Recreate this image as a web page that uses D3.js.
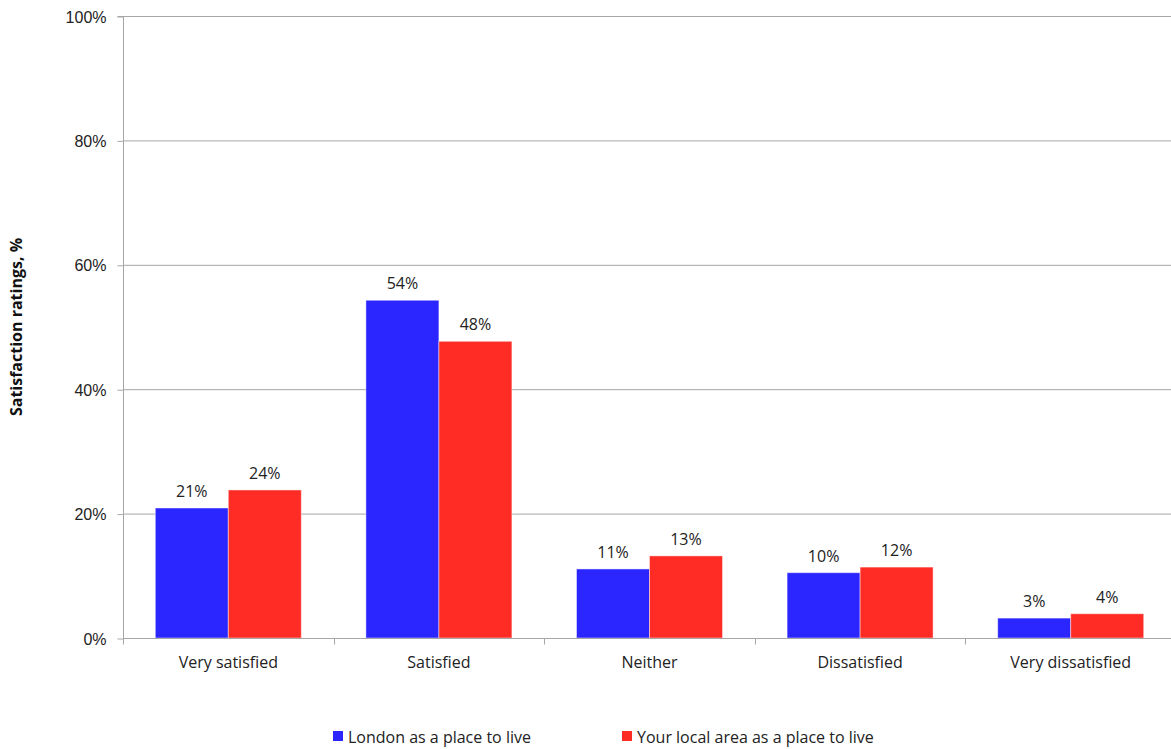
<!DOCTYPE html>
<html><head><meta charset="utf-8">
<script src="https://cdn.jsdelivr.net/npm/d3@7"></script>
<style>body{margin:0;background:#fff;}svg{display:block;font-family:"Open Sans","Noto Sans",sans-serif;}</style>
</head><body>
<script>
const categories = ["Very satisfied","Satisfied","Neither","Dissatisfied","Very dissatisfied"];
const seriesNames = ["London as a place to live","Your local area as a place to live"];
const london = [20.9, 54.3, 11.1, 10.5, 3.2];
const localArea = [23.8, 47.7, 13.2, 11.4, 3.9];
const labelsLondon = ["21%","54%","11%","10%","3%"];
const labelsLocal = ["24%","48%","13%","12%","4%"];
const yTicks = [0,20,40,60,80,100];
const colors = ["#2b25ff","#ff2b25"];

const W=1171,H=749;
const m={left:123,top:16,bottom:111};
const svg=d3.select("body").append("svg").attr("width",W).attr("height",H);
const x=d3.scaleBand().domain(categories).range([m.left, m.left+5*210.6]).paddingInner(0).paddingOuter(0);
const y=d3.scaleLinear().domain([0,100]).range([H-m.bottom, m.top]);
const x1=d3.scaleBand().domain([0,1]).range([0,x.bandwidth()]).paddingOuter(0.4425).paddingInner(0);

// gridlines
svg.append("g").selectAll("line").data(yTicks).join("line")
 .attr("x1",m.left).attr("x2",W).attr("y1",d=>y(d)+0.5).attr("y2",d=>y(d)+0.5)
 .attr("stroke","#a6a6a6").attr("stroke-width",1);

// bars
const series=[london,localArea];
const labels=[labelsLondon,labelsLocal];
series.forEach((vals,si)=>{
  const g=svg.append("g");
  g.selectAll("rect").data(vals).join("rect")
   .attr("x",(d,i)=>x(categories[i])+x1(si))
   .attr("y",d=>y(d))
   .attr("width",x1.bandwidth())
   .attr("height",d=>y(0)-y(d))
   .attr("fill",colors[si])
   .attr("stroke","rgba(255,255,255,0.45)").attr("stroke-width",1);
  g.selectAll("text").data(vals).join("text")
   .attr("x",(d,i)=>x(categories[i])+x1(si)+x1.bandwidth()/2)
   .attr("y",d=>y(d)-11)
   .attr("text-anchor","middle").attr("font-size",16).attr("fill","#222")
   .text((d,i)=>labels[si][i]);
});

// y axis
const yAxis=d3.axisLeft(y).tickValues(yTicks).tickFormat(d=>d+"%").tickSize(6).tickPadding(11);
const ya=svg.append("g").attr("transform",`translate(${m.left+0.5},0.5)`).call(yAxis);
ya.select(".domain").attr("stroke","#a6a6a6").attr("d",`M-6,${y(100)}H0V${y(0)}`);
ya.selectAll(".tick line").attr("stroke","#a6a6a6");
ya.selectAll(".tick text").attr("font-size",16).attr("fill","#222").attr("font-family",null).attr("dy","0.35em");

// x axis
const xa=svg.append("g").attr("transform",`translate(0,${y(0)+0.5})`);
xa.append("line").attr("x1",m.left).attr("x2",W).attr("stroke","#a6a6a6");
xa.selectAll("line.t").data(d3.range(6)).join("line").attr("class","t")
 .attr("x1",i=>Math.round(m.left+i*x.bandwidth())+0.5).attr("x2",i=>Math.round(m.left+i*x.bandwidth())+0.5)
 .attr("y1",0).attr("y2",6).attr("stroke","#a6a6a6");
xa.selectAll("text").data(categories).join("text")
 .attr("x",d=>x(d)+x.bandwidth()/2).attr("y",29)
 .attr("text-anchor","middle").attr("font-size",16).attr("fill","#222").text(d=>d);

// y title
svg.append("text").attr("transform",`translate(22,${(y(0)+y(100))/2}) rotate(-90)`)
 .attr("text-anchor","middle").attr("font-size",16).attr("font-weight","bold").attr("fill","#111")
 .text("Satisfaction ratings, %");

// legend
const legX=[333,622];
seriesNames.forEach((n,i)=>{
  svg.append("rect").attr("x",legX[i]).attr("y",731).attr("width",10).attr("height",10).attr("fill",colors[i]);
  svg.append("text").attr("x",legX[i]+15).attr("y",743).attr("font-size",16).attr("fill","#222").text(n);
});
</script>
</body></html>
